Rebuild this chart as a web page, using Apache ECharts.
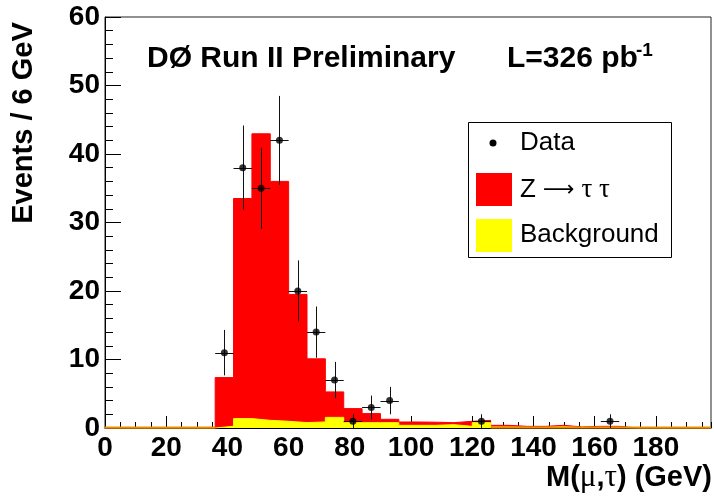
<!DOCTYPE html>
<html>
<head>
<meta charset="utf-8">
<script src="https://cdn.jsdelivr.net/npm/echarts@6/dist/echarts.min.js"></script>
<style>
  html, body { margin: 0; padding: 0; background: #fff; }
  #chart { width: 714px; height: 499px; }
</style>
</head>
<body>
<div id="chart"></div>
<script>
// Bin edges of the M(mu,tau) histogram, 6 GeV wide
const binEdges = [0, 6, 12, 18, 24, 30, 36, 42, 48, 54, 60, 66, 72, 78, 84, 90, 96,
  102, 108, 114, 120, 126, 132, 138, 144, 150, 156, 162, 168, 174, 180, 186, 192, 198];

// Expected background per bin
const background = [0, 0, 0, 0, 0, 0, 0.25, 1.37, 1.12, 0.98, 0.79, 0.88, 1.55, 0.78, 0.78, 0.78,
  0.39, 0.39, 0.49, 0.24, 0.78, 0.15, 0.10, 0.10, 0.20, 0.05, 0.10, 0.10, 0, 0, 0, 0, 0];

// Expected Z -> tau tau per bin (stacked on top of the background)
const zttSignal = [0, 0, 0, 0, 0, 0, 7.11, 32.13, 41.83, 35.02, 18.71, 9.22, 3.72, 2.05, 1.32, 0.49,
  0.49, 0.46, 0.29, 0.74, 0.34, 0.24, 0.14, 0.14, 0.19, 0.10, 0.14, 0.14, 0, 0, 0, 0, 0];

// Observed events per bin and their statistical errors
const dataCounts = [0, 0, 0, 0, 0, 0, 11, 38, 35, 42, 20, 14, 7, 1, 3, 4,
  0, 0, 0, 0, 1, 0, 0, 0, 0, 0, 0, 1, 0, 0, 0, 0, 0];
const dataErrors = [0, 0, 0, 0, 0, 0, 3.32, 6.16, 5.92, 6.48, 4.47, 3.74, 2.65, 1, 1.73, 2,
  0, 0, 0, 0, 1, 0, 0, 0, 0, 0, 0, 1, 0, 0, 0, 0, 0];

// Axis ticks
const xTicks = { min: 0, max: 198, major: 20, minor: 5 };
const yTicks = { min: 0, max: 60, major: 10, minor: 2 };

const FONT = 'Liberation Sans, Arial, sans-serif';
const SYMBOL_FONT = 'Liberation Serif, Times New Roman, serif';

// Step outlines: a point at each lower edge, plus the final upper edge
function stepPoints(values) {
  const pts = values.map((v, i) => [binEdges[i], v]);
  pts.push([binEdges[binEdges.length - 1], values[values.length - 1]]);
  return pts;
}
const totalStack = zttSignal.map((v, i) => +(v + background[i]).toFixed(2));

// Zero-level outline where the stack is (almost) empty
const baseSegments = [];
background.forEach((b, i) => {
  if (b < 0.21 && (i < 6 || i > 20)) baseSegments.push([binEdges[i], binEdges[i + 1]]);
});

const points = [];
const errBars = [];
dataCounts.forEach((n, i) => {
  if (n > 0) {
    const c = (binEdges[i] + binEdges[i + 1]) / 2;
    points.push([c, n]);
    errBars.push([c, n, dataErrors[i], binEdges[i], binEdges[i + 1]]);
  }
});

const chart = echarts.init(document.getElementById('chart'), null, { renderer: 'canvas' });

const axisLabelStyle = { fontFamily: FONT, fontWeight: 'bold', fontSize: 28, color: '#000' };

const option = {
  animation: false,
  grid: {
    left: 105, right: 3, top: 17, bottom: 71,
    show: true, borderColor: '#222', borderWidth: 1,
    containLabel: false, outerBoundsMode: 'none'
  },
  xAxis: [
    {
      type: 'value', min: xTicks.min, max: xTicks.max, interval: xTicks.major, position: 'bottom',
      axisLine: { show: true, onZero: false, lineStyle: { color: '#000', width: 1 } },
      axisTick: { show: true, inside: true, length: 12, lineStyle: { color: '#000', width: 1 } },
      axisLabel: Object.assign({ margin: 6, showMaxLabel: false }, axisLabelStyle),
      splitLine: { show: false }
    },
    {
      type: 'value', min: xTicks.min, max: xTicks.max, interval: xTicks.minor, position: 'bottom',
      axisLine: { show: false, onZero: false },
      axisTick: { show: true, inside: true, length: 6, lineStyle: { color: '#000', width: 1 } },
      axisLabel: { show: false },
      splitLine: { show: false }
    }
  ],
  yAxis: [
    {
      type: 'value', min: yTicks.min, max: yTicks.max, interval: yTicks.major, position: 'left',
      axisLine: { show: true, onZero: false, lineStyle: { color: '#000', width: 1 } },
      axisTick: { show: true, inside: true, length: 16, lineStyle: { color: '#000', width: 1 } },
      axisLabel: Object.assign({ margin: 5 }, axisLabelStyle),
      splitLine: { show: false }
    },
    {
      type: 'value', min: yTicks.min, max: yTicks.max, interval: yTicks.minor, position: 'left',
      axisLine: { show: false, onZero: false },
      axisTick: { show: true, inside: true, length: 8, lineStyle: { color: '#000', width: 1 } },
      axisLabel: { show: false },
      splitLine: { show: false }
    }
  ],
  series: [
    {
      name: 'Z -> tau tau', type: 'line', step: 'end', data: stepPoints(totalStack),
      symbol: 'none', xAxisIndex: 0, yAxisIndex: 0, z: 2,
      lineStyle: { color: '#ff0000', width: 1 },
      areaStyle: { color: '#ff0000', opacity: 1 }
    },
    {
      name: 'Background', type: 'line', step: 'end', data: stepPoints(background),
      symbol: 'none', xAxisIndex: 0, yAxisIndex: 0, z: 3,
      lineStyle: { color: '#ffff00', width: 1 },
      areaStyle: { color: '#ffff00', opacity: 1 }
    },
    {
      name: 'baseline', type: 'custom', data: baseSegments, xAxisIndex: 0, yAxisIndex: 0, z: 4,
      renderItem: (params, api) => {
        const a = api.coord([api.value(0), 0]);
        const b = api.coord([api.value(1), 0]);
        return { type: 'line', shape: { x1: a[0], y1: a[1] - 0.5, x2: b[0], y2: b[1] - 0.5 },
                 style: { stroke: '#ee8c00', lineWidth: 2 } };
      }
    },
    {
      name: 'errors', type: 'custom', data: errBars, xAxisIndex: 0, yAxisIndex: 0, z: 5,
      renderItem: (params, api) => {
        const c = api.value(0), n = api.value(1), e = api.value(2);
        const lo = api.value(3), hi = api.value(4);
        const top = api.coord([c, n + e]);
        const bot = api.coord([c, Math.max(0, n - e)]);
        const left = api.coord([lo, n]);
        const right = api.coord([hi, n]);
        const x = Math.round(top[0]) + 0.5;
        const y = Math.round(left[1]) + 0.5;
        return {
          type: 'group',
          children: [
            { type: 'line', shape: { x1: x, y1: top[1], x2: x, y2: bot[1] },
              style: { stroke: '#111', lineWidth: 1 } },
            { type: 'line', shape: { x1: left[0], y1: y, x2: right[0], y2: y },
              style: { stroke: '#111', lineWidth: 1 } }
          ]
        };
      }
    },
    {
      name: 'Data', type: 'scatter', data: points, xAxisIndex: 0, yAxisIndex: 0, z: 6,
      symbol: 'circle', symbolSize: 7, itemStyle: { color: '#000' }
    }
  ],
  graphic: [
    // Header texts
    { type: 'text', x: 147, y: 59, style: { text: 'DØ Run II Preliminary', font: 'bold 30px ' + FONT,
        fill: '#000', textAlign: 'left', textVerticalAlign: 'middle' } },
    { type: 'text', x: 507, y: 59, style: { text: 'L=326 pb', font: 'bold 30px ' + FONT,
        fill: '#000', textAlign: 'left', textVerticalAlign: 'middle' } },
    { type: 'text', x: 636, y: 51, style: { text: '-1', font: 'bold 19px ' + FONT,
        fill: '#000', textAlign: 'left', textVerticalAlign: 'middle' } },
    // Axis titles
    { type: 'text', x: 24, y: 123, rotation: Math.PI / 2,
      style: { text: 'Events / 6 GeV', font: 'bold 29px ' + FONT, fill: '#000',
        textAlign: 'center', textVerticalAlign: 'middle' } },
    { type: 'text', x: 712, y: 478,
      style: { text: '{b|M(}{g|μ}{b|,}{g|τ}{b|) (GeV)}', textAlign: 'right', textVerticalAlign: 'middle',
        rich: {
          b: { font: 'bold 29px ' + FONT, fill: '#000' },
          g: { font: '31px ' + SYMBOL_FONT, fill: '#000' }
        } } },
    // Legend box
    { type: 'rect', shape: { x: 468.5, y: 122.5, width: 203, height: 135 },
      style: { fill: '#fff', stroke: '#000', lineWidth: 1 }, z: 10 },
    { type: 'circle', shape: { cx: 493, cy: 143, r: 3.5 }, style: { fill: '#000' }, z: 11 },
    { type: 'text', x: 520, y: 143, z: 11, style: { text: 'Data', font: '26px ' + FONT, fill: '#000',
        textAlign: 'left', textVerticalAlign: 'middle' } },
    { type: 'rect', shape: { x: 476, y: 173, width: 36, height: 33 }, style: { fill: '#ff0000' }, z: 11 },
    { type: 'text', x: 520, y: 190, z: 11,
      style: { text: '{a|Z }{r|⟶}{s| τ τ}', textAlign: 'left', textVerticalAlign: 'middle',
        rich: {
          a: { font: '26px ' + FONT, fill: '#000' },
          r: { font: '22px DejaVu Sans', fill: '#000' },
          s: { font: '27px ' + SYMBOL_FONT, fill: '#000' }
        } } },
    { type: 'rect', shape: { x: 476, y: 219, width: 36, height: 33 }, style: { fill: '#ffff00' }, z: 11 },
    { type: 'text', x: 520, y: 235, z: 11, style: { text: 'Background', font: '26px ' + FONT, fill: '#000',
        textAlign: 'left', textVerticalAlign: 'middle' } }
  ]
};

chart.setOption(option);
</script>
</body>
</html>
